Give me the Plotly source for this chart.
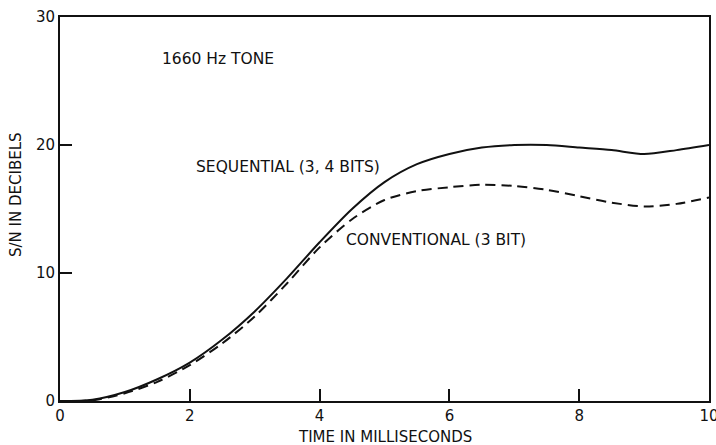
import plotly.graph_objects as go

time_ms = [0, 0.5, 1, 1.5, 2, 2.5, 3, 3.5, 4, 4.5, 5, 5.5, 6, 6.5, 7, 7.5, 8, 8.5, 9, 9.5, 10]
sequential_db = [0, 0.1, 0.7, 1.7, 3.0, 4.8, 7.0, 9.6, 12.4, 15.0, 17.1, 18.5, 19.3, 19.8, 20.0, 20.0, 19.8, 19.6, 19.3, 19.6, 20.0]
conventional_db = [0, 0.05, 0.6, 1.5, 2.8, 4.5, 6.6, 9.2, 12.0, 14.2, 15.7, 16.4, 16.7, 16.9, 16.8, 16.5, 16.0, 15.5, 15.2, 15.4, 15.9]
x_ticks = [0, 2, 4, 6, 8, 10]
y_ticks = [0, 10, 20, 30]

FONT = "DejaVu Sans, Liberation Sans, Arial, sans-serif"
INK = "#111111"

W, H = 716, 445
L, R, T, B = 60, 7, 17, 44
PW, PH = W - L - R, H - T - B

fig = go.Figure()
fig.add_trace(go.Scatter(x=time_ms, y=sequential_db, mode="lines",
                         line=dict(color=INK, width=2, shape="spline", smoothing=0.8)))
fig.add_trace(go.Scatter(x=time_ms, y=conventional_db, mode="lines",
                         line=dict(color=INK, width=2, shape="spline", smoothing=0.8, dash="10px,6px")))

ann_font = dict(size=15.5, color=INK, family=FONT)
fig.add_annotation(x=1.54, y=26.7, text="1660 Hz TONE", showarrow=False, xanchor="left", font=ann_font)
fig.add_annotation(x=2.06, y=18.3, text="SEQUENTIAL (3, 4 BITS)", showarrow=False, xanchor="left", font=ann_font)
fig.add_annotation(x=4.38, y=12.6, text="CONVENTIONAL (3 BIT)", showarrow=False, xanchor="left", font=ann_font)

# axis titles
fig.add_annotation(xref="paper", yref="paper", x=(16 - L) / PW, y=(H - B - 195) / PH,
                   text="S/N IN DECIBELS", textangle=-90, showarrow=False,
                   xanchor="center", yanchor="middle", font=dict(size=15, color=INK, family=FONT))
fig.add_annotation(xref="paper", yref="paper", x=0.5, y=-(437 - (H - B)) / PH,
                   text="TIME IN MILLISECONDS", showarrow=False,
                   xanchor="center", yanchor="middle", font=dict(size=15, color=INK, family=FONT))

fig.update_layout(
    width=W, height=H,
    margin=dict(l=L, r=R, t=T, b=B),
    paper_bgcolor="white", plot_bgcolor="white",
    showlegend=False,
    font=dict(family=FONT, color=INK, size=15),
    xaxis=dict(range=[0, 10], tickvals=x_ticks, ticks="inside", ticklen=12, tickwidth=1.5,
               tickcolor=INK, showline=True, linecolor=INK, linewidth=2, mirror=True,
               showgrid=False, zeroline=False, automargin=False, ticklabeloverflow="allow",
               tickfont=dict(size=15)),
    yaxis=dict(range=[0, 30], tickvals=y_ticks, ticks="inside", ticklen=12, tickwidth=1.5,
               tickcolor=INK, showline=True, linecolor=INK, linewidth=2, mirror=True,
               showgrid=False, zeroline=False, automargin=False, ticklabeloverflow="allow",
               tickfont=dict(size=15)),
)

fig.write_html("out.html", config={"displayModeBar": False},
               post_script="document.body.style.margin='0';document.body.style.overflow='hidden';")
